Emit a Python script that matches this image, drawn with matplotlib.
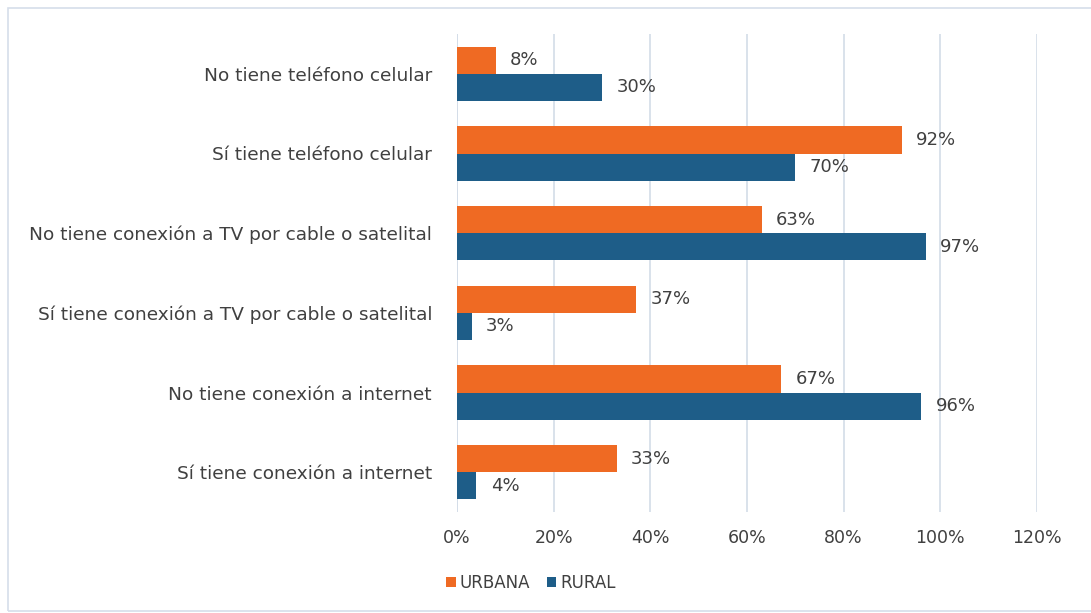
import matplotlib
matplotlib.use("Agg")
import matplotlib.pyplot as plt
from matplotlib.patches import Rectangle
from matplotlib.ticker import FuncFormatter, MultipleLocator

categories = [
    "No tiene teléfono celular",
    "Sí tiene teléfono celular",
    "No tiene conexión a TV por cable o satelital",
    "Sí tiene conexión a TV por cable o satelital",
    "No tiene conexión a internet",
    "Sí tiene conexión a internet",
]
urbana = [8, 92, 63, 37, 67, 33]
rural = [30, 70, 97, 3, 96, 4]
series_names = ["URBANA", "RURAL"]

ORANGE = "#EF6A23"
BLUE = "#1E5D88"
TEXT = "#404040"
GRID = "#D3DDE8"

plt.rcParams["font.family"] = ["DejaVu Sans"]

W, H = 1091, 613
fig = plt.figure(figsize=(W / 100, H / 100), dpi=100)
fig.patch.set_facecolor("white")

# outer chart frame
fig.patches.append(Rectangle((8 / W, 2 / H), 1.2, (H - 10) / H, transform=fig.transFigure,
                             fill=False, edgecolor="#D6DEEA", linewidth=1.2))

left, right = 457 / W, 1037 / W
top, bottom = 1 - 34 / H, 1 - 512 / H
ax = fig.add_axes([left, bottom, right - left, top - bottom])

n = len(categories)
ys = list(range(n))
bh = 0.34
ax.barh([y - bh / 2 for y in ys], urbana, height=bh, color=ORANGE, label=series_names[0], zorder=3)
ax.barh([y + bh / 2 for y in ys], rural, height=bh, color=BLUE, label=series_names[1], zorder=3)

for y, u, r in zip(ys, urbana, rural):
    ax.text(u + 3, y - bh / 2, f"{u}%", va="center", ha="left", fontsize=13, color=TEXT)
    ax.text(r + 3, y + bh / 2, f"{r}%", va="center", ha="left", fontsize=13, color=TEXT)

ax.set_xlim(0, 120)
ax.set_ylim(n - 0.5, -0.5)
ax.xaxis.set_major_locator(MultipleLocator(20))
ax.xaxis.set_major_formatter(FuncFormatter(lambda v, p: f"{int(v)}%"))
ax.set_yticks(ys)
ax.set_yticklabels(categories)
ax.tick_params(axis="y", length=0, pad=18, labelsize=13.3, labelcolor=TEXT)
ax.tick_params(axis="x", length=0, pad=12, labelsize=12.5, labelcolor=TEXT)
ax.grid(axis="x", color=GRID, linewidth=1.2, zorder=0)
for s in ax.spines.values():
    s.set_visible(False)
ax.axvline(0, color=GRID, linewidth=1.2, zorder=2)

fig.legend(loc="center", bbox_to_anchor=(531 / W, 1 - 583 / H), ncol=2, frameon=False,
           fontsize=12, handlelength=0.55, handleheight=0.6, handletextpad=0.25,
           columnspacing=1.0, labelcolor=TEXT)

fig.savefig("out.png", dpi=100, facecolor="white")
